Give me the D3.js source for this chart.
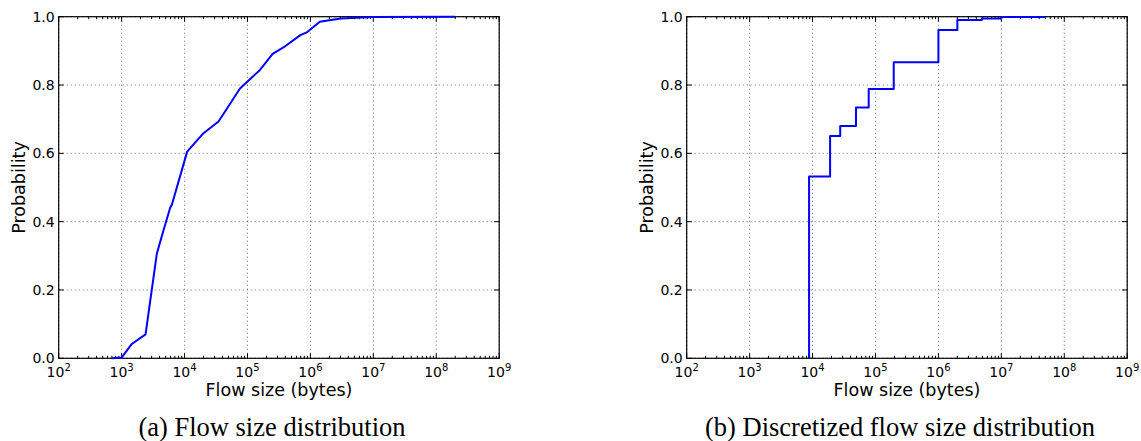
<!DOCTYPE html>
<html>
<head>
<meta charset="utf-8">
<script src="https://cdn.jsdelivr.net/npm/d3@7"></script>
<style>
  body { margin: 0; background: #fff; }
  svg text { fill: #000; }
</style>
</head>
<body>
<svg id="fig" width="1141" height="441"></svg>
<script>
//========================== Data ================================

// (a) empirical CDF of flow sizes
let flowSizes = [710, 1000, 1450, 2400, 3630, 4570, 5890, 6300, 11000, 20000, 34700,
                 76000, 158000, 251000, 372000, 692000, 891000, 1410000, 3020000, 10000000, 200000000]
let flowProbs = [0, 0.002, 0.042, 0.070, 0.307, 0.371, 0.440, 0.450, 0.605, 0.659, 0.693,
                 0.790, 0.844, 0.891, 0.910, 0.946, 0.955, 0.985, 0.995, 0.999, 1.0]

// (b) discretized CDF (step function)
let stepSizes = [8800, 8800, 19000, 27500, 49000, 78000, 195000, 1000000, 2000000, 4900000, 10000000, 50000000]
let stepProbs = [0, 0.532, 0.651, 0.680, 0.734, 0.788, 0.867, 0.961, 0.990, 0.995, 0.999, 0.999]

let xTickExps = [2, 3, 4, 5, 6, 7, 8, 9]
let yTicks = [0, 0.2, 0.4, 0.6, 0.8, 1.0]
let captions = ['(a) Flow size distribution', '(b) Discretized flow size distribution']

//========================== Layout ================================

let svg = d3.select('#fig')
let W = 440.5, H = 341.6
let panels = [
  { left: 58.7, top: 16.7, xs: flowSizes, ys: flowProbs, curve: d3.curveLinear, cap: captions[0], capX: 272 },
  { left: 686.7, top: 16.7, xs: stepSizes, ys: stepProbs, curve: d3.curveStepAfter, cap: captions[1], capX: 900 }
]

let x = d3.scaleLog().domain([1e2, 1e9]).range([0, W])
let y = d3.scaleLinear().domain([0, 1]).range([H, 0])

// minor ticks 2..9 per decade
let minor = []
for (let e = 2; e < 9; e++) for (let m = 2; m <= 9; m++) minor.push(m * Math.pow(10, e))

panels.forEach((p) => {
  let g = svg.append('g').attr('transform', `translate(${p.left},${p.top})`)

  // grid
  g.selectAll('.gx').data(xTickExps).enter().append('line')
    .attr('x1', d => x(Math.pow(10, d))).attr('x2', d => x(Math.pow(10, d)))
    .attr('y1', 0).attr('y2', H)
    .attr('stroke', '#000').attr('stroke-opacity', 0.75).attr('stroke-width', 0.8)
    .attr('stroke-dasharray', '1,3')
  g.selectAll('.gy').data(yTicks).enter().append('line')
    .attr('x1', 0).attr('x2', W)
    .attr('y1', d => y(d)).attr('y2', d => y(d))
    .attr('stroke', '#000').attr('stroke-opacity', 0.75).attr('stroke-width', 0.8)
    .attr('stroke-dasharray', '1,3')

  // ticks, inward on all four sides
  let tk = g.append('g').attr('stroke', '#000').attr('stroke-width', 1)
  xTickExps.forEach((e) => {
    let xx = x(Math.pow(10, e))
    tk.append('line').attr('x1', xx).attr('x2', xx).attr('y1', H).attr('y2', H - 5)
    tk.append('line').attr('x1', xx).attr('x2', xx).attr('y1', 0).attr('y2', 5)
  })
  minor.forEach((v) => {
    let xx = x(v)
    tk.append('line').attr('x1', xx).attr('x2', xx).attr('y1', H).attr('y2', H - 2.5)
    tk.append('line').attr('x1', xx).attr('x2', xx).attr('y1', 0).attr('y2', 2.5)
  })
  yTicks.forEach((v) => {
    tk.append('line').attr('x1', 0).attr('x2', 5).attr('y1', y(v)).attr('y2', y(v))
    tk.append('line').attr('x1', W).attr('x2', W - 5).attr('y1', y(v)).attr('y2', y(v))
  })

  // frame
  g.append('rect').attr('width', W).attr('height', H)
    .attr('fill', 'none').attr('stroke', '#000').attr('stroke-width', 1.2)

  // data line
  let line = d3.line().x(d => x(d[0])).y(d => y(d[1])).curve(p.curve)
  g.append('path').datum(d3.zip(p.xs, p.ys))
    .attr('d', line)
    .attr('fill', 'none').attr('stroke', '#0000ff').attr('stroke-width', 2)
    .attr('stroke-linejoin', 'round')

  // tick labels
  g.selectAll('.yl').data(yTicks).enter().append('text')
    .attr('x', -4).attr('y', d => y(d)).attr('dy', '0.36em')
    .attr('text-anchor', 'end')
    .style('font', '14px "DejaVu Sans"')
    .text(d => d.toFixed(1))

  xTickExps.forEach((e) => {
    let t = g.append('text')
      .attr('x', x(Math.pow(10, e))).attr('y', H + 19)
      .attr('text-anchor', 'middle')
      .style('font', '14px "DejaVu Sans"')
    t.append('tspan').text('10')
    t.append('tspan').attr('dy', -6).style('font-size', '10px').text(e)
  })

  // axis titles
  g.append('text').attr('x', W / 2).attr('y', H + 38)
    .attr('text-anchor', 'middle')
    .style('font', '17.5px "DejaVu Sans"')
    .text('Flow size (bytes)')
  g.append('text')
    .attr('transform', `translate(-34,${H / 2}) rotate(-90)`)
    .attr('text-anchor', 'middle')
    .style('font', '17.5px "DejaVu Sans"')
    .text('Probability')

  // caption
  svg.append('text').attr('x', p.capX).attr('y', 436)
    .attr('text-anchor', 'middle')
    .style('font', '26.5px "Liberation Serif"')
    .text(p.cap)
})
</script>
</body>
</html>
